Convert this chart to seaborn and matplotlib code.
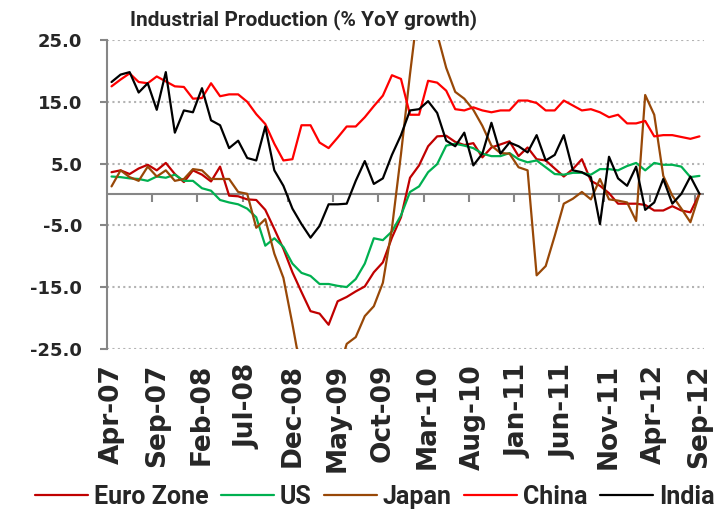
import pandas as pd
import matplotlib
matplotlib.use("Agg")
import matplotlib.pyplot as plt
import seaborn as sns

# monthly YoY growth, Apr-07 .. Sep-12
months = pd.date_range("2007-04-01", periods=66, freq="MS").strftime("%b-%y").tolist()

euro_zone = [3.6, 3.9, 3.3, 4.2, 4.8, 3.9, 5.1, 3.3, 2.0, 3.9,
             3.2, 2.1, 4.5, -0.2, -0.3, -0.8, -0.9, -2.5, -5.6, -8.8,
             -12.6, -15.8, -18.9, -19.3, -21.1, -17.3, -16.6, -15.7, -14.9, -12.6,
             -11.0, -7.0, -3.7, 2.7, 4.7, 7.8, 9.4, 9.5, 8.5, 8.0,
             8.3, 6.0, 7.6, 8.1, 8.6, 6.2, 7.6, 5.7, 5.5, 4.2,
             2.9, 4.1, 5.7, 2.2, 1.4, 0.2, -1.5, -1.5, -1.5, -1.7,
             -2.6, -2.6, -1.9, -2.6, -2.9, 0.1]

us = [2.9, 2.8, 2.6, 2.5, 2.2, 2.9, 2.7, 3.2, 2.2, 2.2,
      1.0, 0.6, -0.9, -1.3, -1.6, -2.3, -3.7, -8.3, -7.1, -8.5,
      -11.2, -12.7, -13.2, -14.5, -14.5, -14.8, -15.0, -13.7, -11.2, -7.1,
      -7.4, -6.0, -3.4, 0.4, 1.3, 3.6, 4.9, 7.9, 8.2, 7.9,
      7.5, 6.6, 6.2, 6.2, 6.7, 5.7, 5.2, 5.5, 4.4, 3.3,
      3.2, 3.5, 3.5, 3.2, 4.1, 4.1, 3.9, 4.6, 5.1, 3.9,
      5.1, 4.8, 4.8, 4.5, 2.8, 3.0]

japan = [1.3, 3.9, 2.8, 2.2, 4.5, 2.9, 3.9, 2.2, 2.5, 4.1,
         3.9, 2.5, 2.5, 2.5, 0.4, 0.1, -5.4, -4.0, -9.6, -13.5,
         -21.0, -29.0, -35.0, -37.0, -33.0, -29.0, -24.2, -23.1, -19.7, -18.1,
         -14.3, -5.5, 6.5, 19.5, 31.5, 31.5, 26.0, 20.5, 16.6, 15.5,
         13.7, 11.1, 7.9, 6.7, 6.6, 4.4, 3.9, -13.1, -11.6, -6.7,
         -1.5, -0.7, 0.4, -0.8, 2.5, -0.8, -1.0, -1.3, -4.3, 16.1,
         12.9, 3.0, -0.2, -2.3, -4.5, 0.1]

china = [17.5, 18.6, 19.6, 18.2, 18.0, 19.1, 18.3, 17.5, 17.4, 15.5,
         15.6, 18.0, 15.9, 16.2, 16.2, 15.0, 13.0, 11.4, 8.2, 5.5,
         5.7, 11.2, 11.2, 8.4, 7.5, 9.2, 11.0, 11.0, 12.5, 14.3,
         16.0, 19.3, 18.7, 12.9, 12.9, 18.4, 18.1, 16.8, 13.8, 13.6,
         14.1, 13.6, 13.3, 13.6, 13.6, 15.2, 15.2, 14.8, 13.6, 13.6,
         15.2, 14.4, 13.6, 13.8, 13.3, 12.5, 12.9, 11.5, 11.5, 11.9,
         9.4, 9.6, 9.6, 9.3, 9.0, 9.4]

india = [18.2, 19.4, 19.8, 16.5, 18.0, 13.7, 19.8, 10.0, 13.6, 13.3,
         17.2, 12.0, 11.2, 7.5, 8.7, 5.9, 5.5, 11.0, 3.9, 1.4,
         -2.3, -4.8, -7.0, -5.1, -1.6, -1.6, -1.5, 2.2, 5.4, 1.7,
         2.6, 6.4, 9.6, 13.6, 13.8, 15.1, 13.2, 8.7, 7.8, 10.0,
         4.7, 6.6, 11.6, 6.6, 8.4, 7.8, 6.8, 9.6, 5.5, 6.4,
         9.6, 3.9, 3.6, 2.8, -4.8, 6.1, 2.6, 1.4, 4.5, -2.5,
         -1.3, 2.5, -1.5, 0.1, 2.9, 0.1]

series_names = ["Euro Zone", "US", "Japan", "China", "India"]
series_colors = ["#C00000", "#00B050", "#984807", "#FF0000", "#000000"]
y_ticks = [25, 15, 5, -5, -15, -25]

df = pd.DataFrame({"Euro Zone": euro_zone, "US": us, "Japan": japan,
                   "China": china, "India": india})
df["month"] = range(len(months))
long_df = df.melt(id_vars="month", var_name="series", value_name="growth")

sns.set_style("white")
plt.rcParams["font.family"] = ["DejaVu Sans"]

fig = plt.figure(figsize=(7.25, 5.13), dpi=100)
ax = fig.add_axes([0.1476, 0.320, 0.8234, 0.602])

sns.lineplot(data=long_df, x="month", y="growth", hue="series",
             hue_order=series_names, palette=dict(zip(series_names, series_colors)),
             linewidth=1.6, ax=ax)

ax.set_xlim(-0.5, len(months) - 0.5)
ax.set_ylim(-25, 25)
ax.set_xlabel("")
ax.set_ylabel("")

# y axis
ax.set_yticks(y_ticks)
ax.set_yticklabels([f"{t:.1f}" for t in y_ticks], fontsize=13, fontweight="bold")
ax.yaxis.grid(True, linestyle=(0, (1, 1.6)), color="#b3b3b3", linewidth=1.5)
ax.set_axisbelow(True)
ax.tick_params(axis="y", direction="out", length=5, width=1.5, color="#868686", pad=13, left=True)

for side in ["top", "right", "bottom"]:
    ax.spines[side].set_visible(False)
ax.spines["left"].set_color("#868686")
ax.spines["left"].set_linewidth(1.5)

# category axis sits on zero line, labels stay at the bottom
ax.axhline(0, color="#868686", linewidth=1.5, zorder=1)
ax.vlines([i + 4.5 for i in range(0, len(months) - 5, 5)], -1.2, 0, color="#868686", linewidth=1.5, zorder=1)
ax.set_xticks(range(0, len(months), 5))
ax.set_xticklabels(months[::5], rotation=90, fontsize=19, fontweight="bold")
ax.tick_params(axis="x", length=0, pad=11)

handles, labels = ax.get_legend_handles_labels()
ax.get_legend().remove()
fig.legend(handles, labels, loc="center", bbox_to_anchor=(0.517, 0.031), ncol=5,
           frameon=False, handlelength=2.1, handletextpad=0.25, columnspacing=0.5,
           prop={"family": "Roboto", "weight": "bold", "size": 18})

fig.text(0.418, 0.962, "Industrial Production (% YoY growth)", ha="center", va="center",
         fontsize=15, fontweight="bold", family="Roboto")

fig.savefig("out.png", dpi=100)
